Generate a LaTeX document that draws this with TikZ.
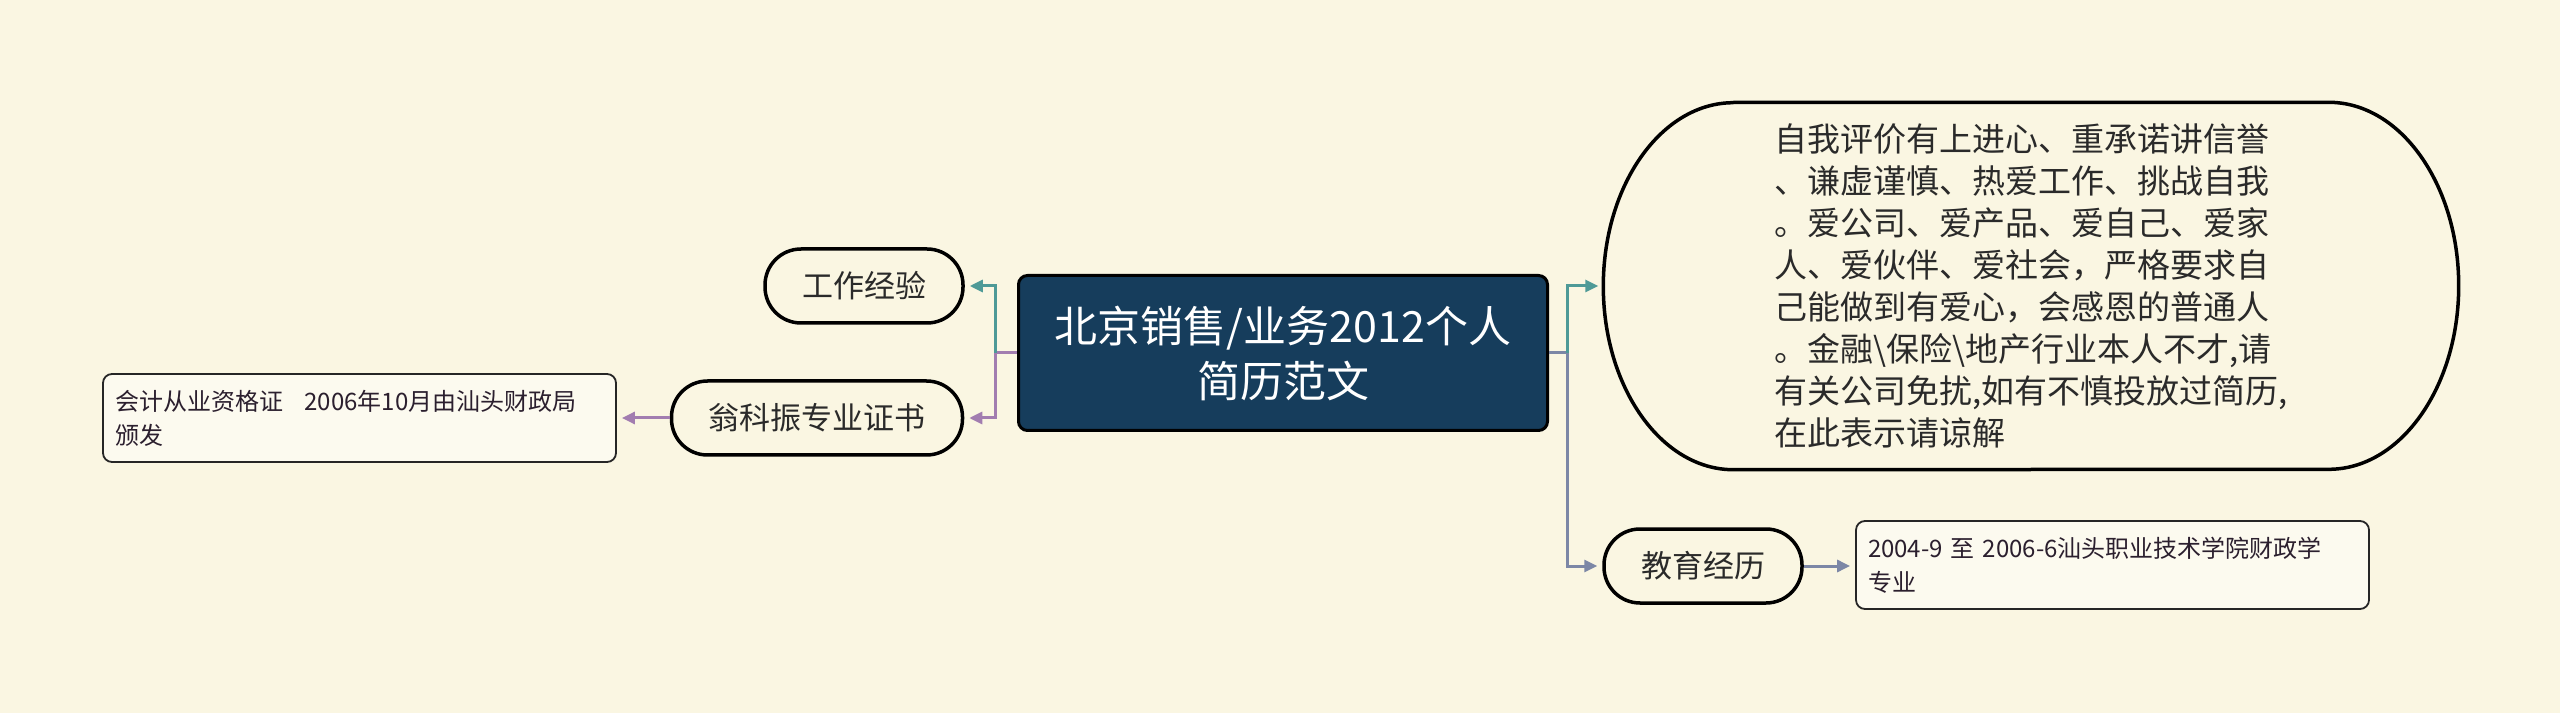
\documentclass[tikz,border=0pt]{standalone}
\usepackage{fontspec}
\setmainfont{Noto Sans CJK SC}
\usetikzlibrary{arrows.meta}

\definecolor{paper}{RGB}{250,246,226}
\definecolor{rootblue}{RGB}{22,61,92}
\definecolor{tealish}{RGB}{78,154,151}
\definecolor{purplish}{RGB}{162,125,176}
\definecolor{slate}{RGB}{124,135,166}
\definecolor{ink}{RGB}{42,42,42}
\definecolor{leafink}{RGB}{43,31,46}

\begin{document}
\begin{tikzpicture}[
  x=1pt,
  y=1pt,
  pill/.style={draw=black,line width=3.5pt,fill=paper,rounded corners=36pt,minimum height=74pt,inner xsep=37pt,font=\fontsize{31}{42}\selectfont,text=ink},
  leaf/.style={draw=black!85,line width=1.8pt,fill=paper!55!white,rounded corners=9pt,align=left,text width=489pt,inner xsep=12pt,minimum height=88pt,font=\fontsize{24}{34}\selectfont,text=leafink},
  link/.style={line width=3pt,-{Triangle[length=13pt,width=12pt]},shorten >=5pt}
]
\fill[paper] (0,0) rectangle (2560,713);
\useasboundingbox (0,0) rectangle (2560,713);

% root
\node[draw=black,line width=3pt,fill=rootblue,rounded corners=9pt,minimum width=529pt,minimum height=155pt,align=center,text=white,font=\fontsize{43}{55}\selectfont] (root) at (1283,360) {北京销售/业务2012个人\\简历范文};

% left branches
\node[pill] (work) at (864,427) {工作经验};
\node[pill] (cert) at (817,295) {翁科振专业证书};
\node[leaf] (certleaf) at (359.5,295) {会计从业资格证\hspace{0.9em}2006年10月由汕头财政局\\颁发};

% right branches
\node[minimum width=855pt,minimum height=367pt,align=left,text=ink,font=\fontsize{33}{42}\selectfont] (eval) at (2031,427) {自我评价有上进心、重承诺讲信誉\\、谦虚谨慎、热爱工作、挑战自我\\。爱公司、爱产品、爱自己、爱家\\人、爱伙伴、爱社会，严格要求自\\己能做到有爱心，会感恩的普通人\\。金融\textbackslash 保险\textbackslash 地产行业本人不才,请\\有关公司免扰,如有不慎投放过简历,\\在此表示请谅解};
\draw[line width=3.5pt] ([xshift=130pt]eval.north west) -- ([xshift=-130pt]eval.north east)
  arc[start angle=90,end angle=-90,x radius=130,y radius=183.5]
  -- ([xshift=130pt]eval.south west)
  arc[start angle=270,end angle=90,x radius=130,y radius=183.5];
\node[pill] (edu) at (1703,147) {教育经历};
\node[leaf] (eduleaf) at (2112.5,148) {2004-9 至 2006-6汕头职业技术学院财政学\\专业};

% connectors
\draw[link,purplish] (root.west) -- ++(-22,0) |- (cert.east);
\draw[link,tealish] ([xshift=-22pt]root.west) |- (work.east);
\draw[link,slate] (root.east) -- ++(18,0) |- (edu.west);
\draw[link,tealish] ([xshift=18pt]root.east) |- (eval.west);
\draw[link,purplish] (cert.west) -- (cert.west -| certleaf.east);
\draw[link,slate] (edu.east) -- (edu.east -| eduleaf.west);
\end{tikzpicture}
\end{document}
